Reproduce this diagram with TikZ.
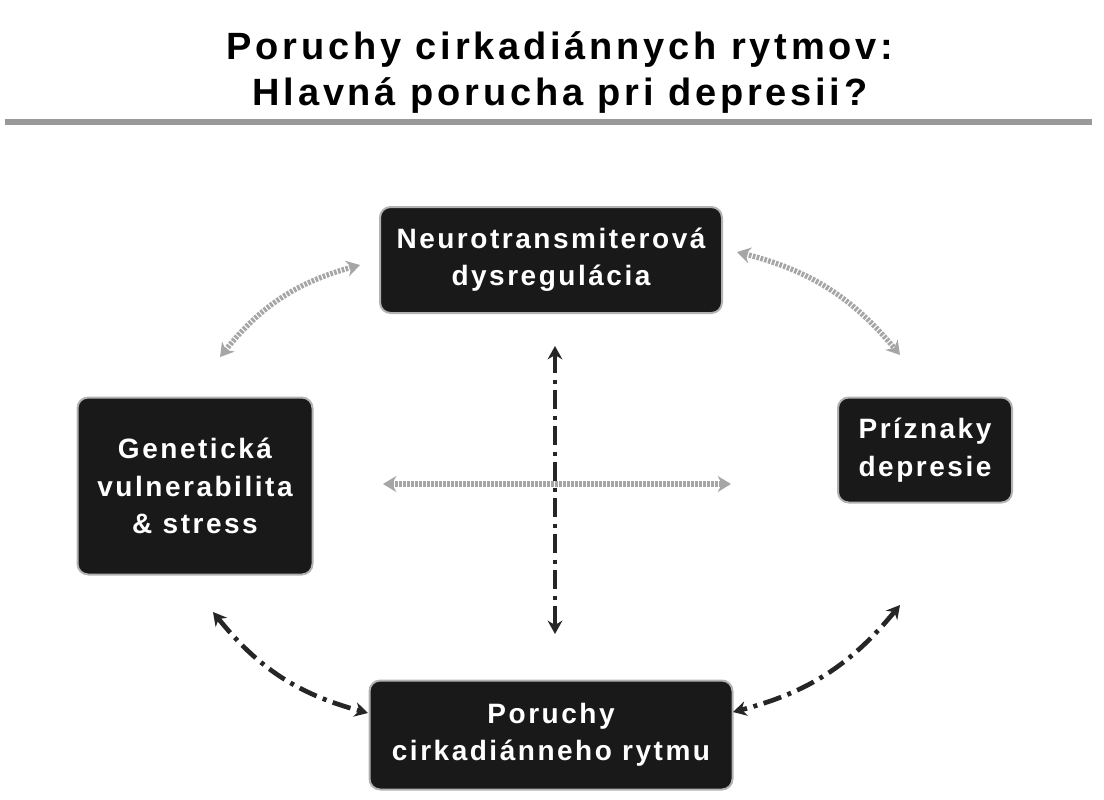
\documentclass[tikz,border=0pt]{standalone}
\usepackage{fontspec}
\setmainfont{Liberation Sans}
\usetikzlibrary{arrows.meta}
\begin{document}
\begin{tikzpicture}[x=0.75pt,y=-0.75pt,
  bx/.style={draw=gray!60,line width=1.5pt,fill=black!90,rounded corners=8pt,text=white,font=\bfseries\fontsize{21}{28}\selectfont\addfontfeatures{LetterSpace=9},align=center},
  ga/.style={draw=gray!70,line width=4pt,dash pattern=on 2pt off 1pt,{Stealth[length=10pt,width=12pt]}-{Stealth[length=10pt,width=12pt]}},
  ka/.style={draw=black!85,line width=3.5pt,dash pattern=on 14pt off 5pt on 3pt off 5pt,{Stealth[length=10pt,width=11pt]}-{Stealth[length=10pt,width=11pt]}}]
\useasboundingbox (0,0) rectangle (1104,800);
\node[font=\bfseries\fontsize{28.5}{34}\selectfont\addfontfeatures{LetterSpace=10}] (t1) at (560,50) {Poruchy cirkadiánnych rytmov:};
\node[font=\bfseries\fontsize{28.5}{34}\selectfont\addfontfeatures{LetterSpace=10}] (t2) at (560,96) {Hlavná porucha pri depresii?};
\draw[gray!80,line width=4pt] (5,122) -- (1092,122);
\node[bx,minimum width=342*0.75pt,minimum height=106*0.75pt] (n) at (551,260) {Neurotransmiterová\\dysregulácia};
\node[bx,minimum width=235*0.75pt,minimum height=177*0.75pt] (g) at (195,486) {Genetická\\vulnerabilita\\\& stress};
\node[bx,minimum width=174*0.75pt,minimum height=105*0.75pt] (p) at (925,450) {Príznaky\\depresie};
\node[bx,minimum width=363*0.75pt,minimum height=109*0.75pt] (c) at (551,735) {Poruchy\\cirkadiánneho rytmu};
\coordinate (a1) at (220,357); \coordinate (a2) at (360,265);
\coordinate (b1) at (737,252); \coordinate (b2) at (900,355);
\coordinate (h1) at (383,484); \coordinate (h2) at (731,484);
\coordinate (v1) at (555,346); \coordinate (v2) at (555,634);
\coordinate (d1) at (213,612); \coordinate (d2) at (368,713);
\coordinate (e1) at (900,605); \coordinate (e2) at (733,712);
\draw[ga] (a1) to[bend left=18] (a2);
\draw[ga] (b1) to[bend left=18] (b2);
\draw[ga] (h1) -- (h2);
\draw[ka] (v1) -- (v2);
\draw[ka] (d1) to[bend right=18] (d2);
\draw[ka] (e1) to[bend left=18] (e2);
\end{tikzpicture}
\end{document}
